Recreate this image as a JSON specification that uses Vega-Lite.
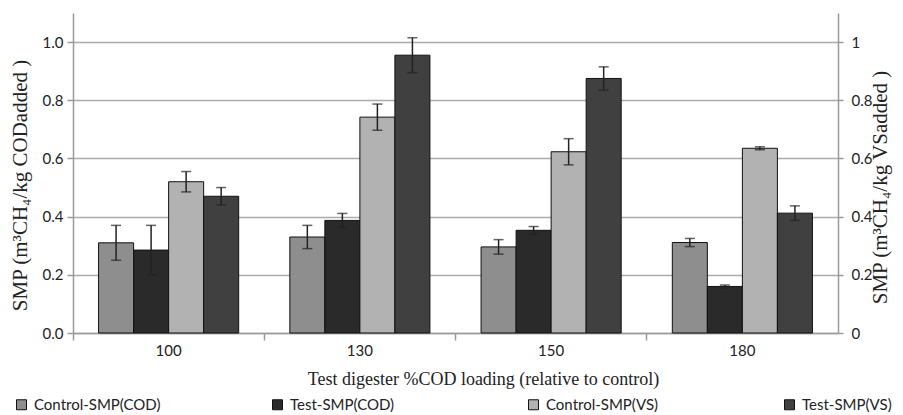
{
  "$schema": "https://vega.github.io/schema/vega-lite/v6.json",
  "width": 765,
  "height": 320,
  "autosize": {"type": "none"},
  "padding": {"left": 73, "top": 13, "right": 65, "bottom": 82},
  "background": "white",
  "config": {"view": {"stroke": null}, "font": "Lato"},
  "data": {
    "values": [
      {"loading": "100", "series": "Control-SMP(COD)", "value": 0.31, "lo": 0.25, "hi": 0.37},
      {"loading": "100", "series": "Test-SMP(COD)", "value": 0.285, "lo": 0.2, "hi": 0.37},
      {"loading": "100", "series": "Control-SMP(VS)", "value": 0.52, "lo": 0.485, "hi": 0.555},
      {"loading": "100", "series": "Test-SMP(VS)", "value": 0.47, "lo": 0.44, "hi": 0.5},
      {"loading": "130", "series": "Control-SMP(COD)", "value": 0.33, "lo": 0.29, "hi": 0.37},
      {"loading": "130", "series": "Test-SMP(COD)", "value": 0.387, "lo": 0.363, "hi": 0.411},
      {"loading": "130", "series": "Control-SMP(VS)", "value": 0.742, "lo": 0.697, "hi": 0.787},
      {"loading": "130", "series": "Test-SMP(VS)", "value": 0.955, "lo": 0.895, "hi": 1.015},
      {"loading": "150", "series": "Control-SMP(COD)", "value": 0.296, "lo": 0.271, "hi": 0.321},
      {"loading": "150", "series": "Test-SMP(COD)", "value": 0.353, "lo": 0.34, "hi": 0.366},
      {"loading": "150", "series": "Control-SMP(VS)", "value": 0.623, "lo": 0.578, "hi": 0.668},
      {"loading": "150", "series": "Test-SMP(VS)", "value": 0.875, "lo": 0.835, "hi": 0.915},
      {"loading": "180", "series": "Control-SMP(COD)", "value": 0.311, "lo": 0.297, "hi": 0.325},
      {"loading": "180", "series": "Test-SMP(COD)", "value": 0.16, "lo": 0.155, "hi": 0.165},
      {"loading": "180", "series": "Control-SMP(VS)", "value": 0.635, "lo": 0.63, "hi": 0.64},
      {"loading": "180", "series": "Test-SMP(VS)", "value": 0.412, "lo": 0.387, "hi": 0.437}
    ]
  },
  "encoding": {
    "x": {
      "field": "loading",
      "type": "nominal",
      "sort": ["100", "130", "150", "180"],
      "scale": {"paddingInner": 0, "paddingOuter": 0},
      "axis": {
        "title": "Test digester %COD loading (relative to control)",
        "labelAngle": 0,
        "bandPosition": 0,
        "domainColor": "#9a9a9a",
        "domainWidth": 1.5,
        "tickColor": "#9a9a9a",
        "tickWidth": 1.5,
        "tickSize": 7,
        "labelPadding": 3,
        "labelFont": "Lato",
        "labelFontSize": 15,
        "labelColor": "#222",
        "titleFont": "Liberation Serif",
        "titleFontSize": 18,
        "titleFontWeight": "normal",
        "titleColor": "#222",
        "titleX": 410,
        "titleY": 46,
        "titleAnchor": "middle",
        "titleAlign": "center",
        "titleBaseline": "middle"
      }
    },
    "xOffset": {
      "field": "series",
      "type": "nominal",
      "sort": ["Control-SMP(COD)", "Test-SMP(COD)", "Control-SMP(VS)", "Test-SMP(VS)"],
      "scale": {"paddingInner": 0, "paddingOuter": 0.73}
    }
  },
  "layer": [
    {
      "mark": {"type": "bar", "stroke": "#111", "strokeWidth": 1},
      "encoding": {
        "y": {
          "field": "value",
          "type": "quantitative",
          "scale": {"domain": [0, 1.1], "nice": false, "zero": true},
          "axis": {
            "orient": "left",
            "title": "SMP (m³CH₄/kg CODadded )",
            "values": [0, 0.2, 0.4, 0.6, 0.8, 1.0],
            "format": ".1f",
            "grid": true,
            "gridColor": "#ababab",
            "gridWidth": 1.3,
            "domainColor": "#9a9a9a",
            "domainWidth": 1.5,
            "tickColor": "#9a9a9a",
            "tickWidth": 1.5,
            "tickSize": 6,
            "labelPadding": 4,
            "labelFont": "Lato",
            "labelFontSize": 15,
            "labelColor": "#222",
            "titleFont": "Liberation Serif",
            "titleFontSize": 21,
            "titleFontWeight": "normal",
            "titleColor": "#222",
            "titleAngle": -90,
            "titleX": -53,
            "titleY": 172,
            "titleAlign": "center",
            "titleBaseline": "middle"
          }
        },
        "color": {
          "field": "series",
          "type": "nominal",
          "sort": ["Control-SMP(COD)", "Test-SMP(COD)", "Control-SMP(VS)", "Test-SMP(VS)"],
          "scale": {
            "domain": ["Control-SMP(COD)", "Test-SMP(COD)", "Control-SMP(VS)", "Test-SMP(VS)"],
            "range": ["#8e8e8e", "#2a2a2a", "#b2b2b2", "#404040"]
          },
          "legend": {
            "orient": "none",
            "legendX": -59,
            "legendY": 384,
            "direction": "horizontal",
            "columns": 4,
            "gridAlign": "all",
            "columnPadding": 109,
            "title": null,
            "symbolType": "square",
            "symbolSize": 100,
            "symbolStrokeColor": "#111",
            "symbolStrokeWidth": 1,
            "symbolOpacity": 1,
            "labelFont": "Lato",
            "labelFontSize": 15,
            "labelColor": "#222",
            "labelOffset": 5
          }
        }
      }
    },
    {
      "mark": {"type": "rule", "color": "#222", "strokeWidth": 1.5},
      "encoding": {
        "y": {
          "field": "lo",
          "type": "quantitative",
          "scale": {"domain": [0, 1.1], "nice": false},
          "axis": {
            "orient": "right",
            "title": "SMP (m³CH₄/kg VSadded )",
            "values": [0, 0.2, 0.4, 0.6, 0.8, 1],
            "format": ".1~f",
            "grid": false,
            "domainColor": "#9a9a9a",
            "domainWidth": 1.5,
            "tickColor": "#9a9a9a",
            "tickWidth": 1.5,
            "tickSize": 5,
            "labelPadding": 8,
            "labelFont": "Lato",
            "labelFontSize": 15,
            "labelColor": "#222",
            "titleFont": "Liberation Serif",
            "titleFontSize": 21,
            "titleFontWeight": "normal",
            "titleColor": "#222",
            "titleAngle": -90,
            "titleX": 42,
            "titleY": 174,
            "titleAlign": "center",
            "titleBaseline": "middle"
          }
        },
        "y2": {"field": "hi"}
      }
    },
    {
      "mark": {"type": "tick", "color": "#222", "thickness": 1.5, "size": 10, "orient": "horizontal"},
      "encoding": {
        "y": {"field": "hi", "type": "quantitative", "scale": {"domain": [0, 1.1], "nice": false}, "axis": null}
      }
    },
    {
      "mark": {"type": "tick", "color": "#222", "thickness": 1.5, "size": 10, "orient": "horizontal"},
      "encoding": {
        "y": {"field": "lo", "type": "quantitative", "scale": {"domain": [0, 1.1], "nice": false}, "axis": null}
      }
    }
  ],
  "resolve": {"scale": {"y": "independent"}}
}
